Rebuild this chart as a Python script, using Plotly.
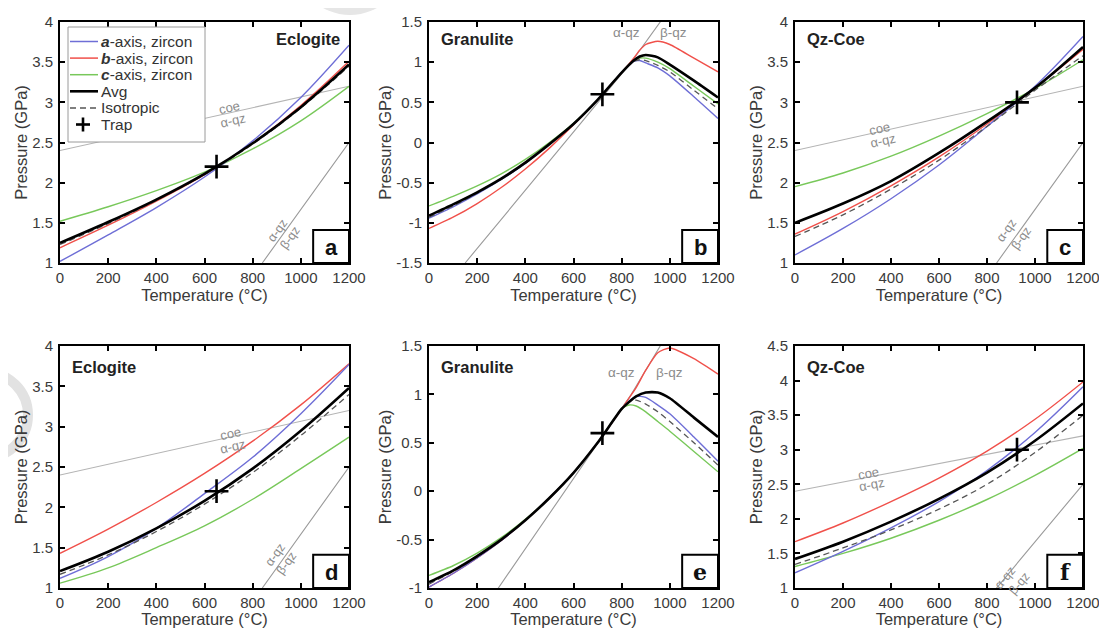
import math
import plotly.graph_objects as go

# ---------------- data ----------------
T7 = [0, 200, 400, 600, 800, 1000, 1200]

# panel a (Eclogite, top)
a_blue = [1.02, 1.35, 1.69, 2.07, 2.52, 3.06, 3.71]
a_red = [1.19, 1.47, 1.77, 2.10, 2.49, 2.96, 3.51]
a_green = [1.52, 1.70, 1.90, 2.13, 2.42, 2.77, 3.20]
a_avg = [1.25, 1.51, 1.79, 2.11, 2.49, 2.94, 3.47]
a_iso = [1.23, 1.49, 1.78, 2.10, 2.48, 2.93, 3.45]

# panel b (Granulite, top)
TB = [0, 100, 200, 300, 400, 500, 600, 700, 800, 850, 875, 900, 950, 1000, 1100, 1200]
b_blue = [-0.94, -0.80, -0.64, -0.46, -0.26, -0.02, 0.23, 0.53, 0.87, 1.01, 1.02, 0.99, 0.93, 0.83, 0.57, 0.30]
b_red = [-1.07, -0.93, -0.76, -0.56, -0.33, -0.07, 0.22, 0.53, 0.87, 1.05, 1.15, 1.22, 1.26, 1.22, 1.05, 0.88]
b_green = [-0.79, -0.67, -0.54, -0.39, -0.21, 0.00, 0.24, 0.53, 0.87, 1.02, 1.05, 1.05, 1.00, 0.92, 0.70, 0.48]
b_avg = [-0.91, -0.77, -0.62, -0.45, -0.25, -0.02, 0.23, 0.53, 0.87, 1.02, 1.07, 1.09, 1.06, 0.97, 0.77, 0.56]
b_iso = [-0.93, -0.79, -0.63, -0.46, -0.26, -0.02, 0.23, 0.53, 0.87, 1.01, 1.03, 1.02, 0.96, 0.88, 0.65, 0.42]

# panel c (Qz-Coe, top)
c_blue = [1.10, 1.43, 1.80, 2.22, 2.70, 3.20, 3.82]
c_red = [1.36, 1.64, 1.96, 2.32, 2.73, 3.18, 3.66]
c_green = [1.95, 2.12, 2.33, 2.58, 2.86, 3.17, 3.53]
c_avg = [1.50, 1.74, 2.02, 2.37, 2.76, 3.18, 3.69]
c_iso = [1.33, 1.60, 1.92, 2.28, 2.70, 3.15, 3.58]

# panel d (Eclogite, bottom)
d_blue = [1.12, 1.39, 1.74, 2.17, 2.62, 3.16, 3.77]
d_red = [1.43, 1.73, 2.06, 2.42, 2.82, 3.27, 3.78]
d_green = [1.06, 1.25, 1.50, 1.77, 2.10, 2.48, 2.87]
d_avg = [1.21, 1.45, 1.74, 2.08, 2.48, 2.95, 3.48]
d_iso = [1.17, 1.41, 1.70, 2.04, 2.43, 2.89, 3.40]

# panel e (Granulite, bottom)
TE = [0, 100, 200, 300, 400, 500, 600, 700, 800, 830, 860, 900, 950, 1000, 1100, 1200]
e_blue = [-0.99, -0.85, -0.69, -0.51, -0.30, -0.07, 0.19, 0.50, 0.85, 0.93, 0.98, 0.97, 0.89, 0.80, 0.56, 0.31]
e_red = [-0.99, -0.85, -0.69, -0.51, -0.30, -0.07, 0.19, 0.50, 0.85, 0.96, 1.07, 1.25, 1.43, 1.48, 1.37, 1.21]
e_green = [-0.87, -0.77, -0.64, -0.48, -0.29, -0.07, 0.19, 0.50, 0.85, 0.89, 0.88, 0.82, 0.72, 0.62, 0.41, 0.20]
e_avg = [-0.94, -0.82, -0.67, -0.50, -0.30, -0.07, 0.19, 0.50, 0.85, 0.92, 0.98, 1.02, 1.02, 0.96, 0.76, 0.56]
e_iso = [-0.96, -0.83, -0.68, -0.50, -0.30, -0.07, 0.19, 0.50, 0.85, 0.92, 0.94, 0.90, 0.82, 0.72, 0.50, 0.27]

# panel f (Qz-Coe, bottom)
f_blue = [1.22, 1.53, 1.87, 2.25, 2.70, 3.25, 3.91]
f_red = [1.67, 1.94, 2.25, 2.59, 2.98, 3.44, 3.98]
f_green = [1.31, 1.50, 1.72, 1.98, 2.28, 2.63, 3.02]
f_avg = [1.42, 1.67, 1.96, 2.29, 2.67, 3.13, 3.67]
f_iso = [1.34, 1.58, 1.84, 2.14, 2.50, 2.96, 3.50]

# phase boundaries
coe_T = [0, 1200]
coe_P = [2.4, 3.2]
ab_T = [150, 840, 1200]
ab_P = [-1.5, 1.0, 2.5]

# inclusion trap points
trap_T = [650, 720, 925, 650, 720, 925]
trap_P = [2.2, 0.6, 3.0, 2.2, 0.6, 3.0]

panel_letters = ["a", "b", "c", "d", "e", "f"]
panel_titles = ["Eclogite", "Granulite", "Qz-Coe", "Eclogite", "Granulite", "Qz-Coe"]
x_ticks = [0, 200, 400, 600, 800, 1000, 1200]
y_ranges = [[1, 4], [-1.5, 1.5], [1, 4], [1, 4], [-1, 1.5], [1, 4.5]]
y_ticks = [
    [1, 1.5, 2, 2.5, 3, 3.5, 4],
    [-1.5, -1, -0.5, 0, 0.5, 1, 1.5],
    [1, 1.5, 2, 2.5, 3, 3.5, 4],
    [1, 1.5, 2, 2.5, 3, 3.5, 4],
    [-1, -0.5, 0, 0.5, 1, 1.5],
    [1, 1.5, 2, 2.5, 3, 3.5, 4, 4.5],
]
series_names = ["<b><i>a</i></b>-axis, zircon", "<b><i>b</i></b>-axis, zircon",
                "<b><i>c</i></b>-axis, zircon", "Avg", "Isotropic", "Trap"]

panels = [
    (T7, a_blue, a_red, a_green, a_avg, a_iso),
    (TB, b_blue, b_red, b_green, b_avg, b_iso),
    (T7, c_blue, c_red, c_green, c_avg, c_iso),
    (T7, d_blue, d_red, d_green, d_avg, d_iso),
    (TE, e_blue, e_red, e_green, e_avg, e_iso),
    (T7, f_blue, f_red, f_green, f_avg, f_iso),
]

# ---------------- style / layout ----------------
FONT = "Liberation Sans, Arial, Helvetica, sans-serif"
W, H = 1107, 628
OFF = 8                       # default page body margin
FW, FH = W - OFF, H - OFF     # figure size so that it ends at the window edge


def px(x):
    return (x - OFF) / FW


def py(y):
    return 1 - (y - OFF) / FH


XD = [[60, 349], [429, 718], [795, 1083]]
YD = [[22, 263], [346, 588]]
BLUE, RED, GREEN = "#6e6ed6", "#f0504a", "#78c85a"
ISO_C = "#555555"
GRAY_TXT = "#8c8c8c"
series_colors = [BLUE, RED, GREEN, "black", ISO_C]

fig = go.Figure()
layout = {}
annotations = []
shapes = []

for i, (T, blue, red, green, avg, iso) in enumerate(panels):
    r, c = divmod(i, 3)
    sx = "x" if i == 0 else f"x{i+1}"
    sy = "y" if i == 0 else f"y{i+1}"
    lx = "xaxis" if i == 0 else f"xaxis{i+1}"
    ly = "yaxis" if i == 0 else f"yaxis{i+1}"
    smooth = 0.6 if i in (1, 4) else 1.0
    granulite = i in (1, 4)

    # phase boundaries
    if not granulite:
        fig.add_trace(go.Scatter(x=coe_T, y=coe_P, mode="lines", xaxis=sx, yaxis=sy,
                                 line=dict(color="#b4b4b4", width=1.1), showlegend=False,
                                 hoverinfo="skip"))
    fig.add_trace(go.Scatter(x=ab_T, y=ab_P, mode="lines", xaxis=sx, yaxis=sy,
                             line=dict(color="#9a9a9a", width=1.1), showlegend=False,
                             hoverinfo="skip"))

    def curve(y, k, width, dash=None):
        fig.add_trace(go.Scatter(
            x=T, y=y, mode="lines", name=series_names[k], xaxis=sx, yaxis=sy,
            line=dict(color=series_colors[k], width=width, shape="spline",
                      smoothing=smooth, dash=dash),
            showlegend=False))

    curve(green, 2, 1.4)
    curve(red, 1, 1.4)
    curve(blue, 0, 1.4)
    curve(iso, 4, 1.3, dash="6px,4px")
    curve(avg, 3, 2.6)
    fig.add_trace(go.Scatter(
        x=[trap_T[i]], y=[trap_P[i]], mode="markers", name=series_names[5],
        xaxis=sx, yaxis=sy, showlegend=False,
        marker=dict(symbol="cross-thin", size=17, line=dict(color="black", width=2.6))))

    xdom = [px(XD[c][0]), px(XD[c][1])]
    ydom = [py(YD[r][1]), py(YD[r][0])]
    ax_common = dict(showline=True, linewidth=2, linecolor="black", mirror="ticks",
                     ticks="inside", ticklen=5, tickwidth=1.5, tickcolor="black",
                     showgrid=False, zeroline=False, automargin=False,
                     tickfont=dict(family=FONT, size=15, color="#3a3a3a"))
    layout[lx] = dict(ax_common, domain=xdom, range=[0, 1200], anchor=sy,
                      tickvals=x_ticks, ticktext=[str(v) for v in x_ticks],
                      title=dict(text="Temperature (°C)", standoff=2,
                                 font=dict(family=FONT, size=16.5, color="#3a3a3a")))
    layout[ly] = dict(ax_common, domain=ydom, range=y_ranges[i], anchor=sx,
                      tickvals=y_ticks[i], ticktext=[f"{v:g}" for v in y_ticks[i]],
                      ticklabelstandoff=2,
                      title=dict(text="Pressure (GPa)", standoff=0,
                                 font=dict(family=FONT, size=16.5, color="#3a3a3a")))

    # panel title
    if i == 0:
        annotations.append(dict(text="<b>Eclogite</b>", xref=f"{sx} domain", yref=f"{sy} domain",
                                x=0.976, y=0.93, xanchor="right", yanchor="middle", showarrow=False,
                                font=dict(family=FONT, size=16.5, color="#222")))
    else:
        annotations.append(dict(text=f"<b>{panel_titles[i]}</b>", xref=f"{sx} domain",
                                yref=f"{sy} domain", x=0.035, y=0.93 if r == 0 else 0.915,
                                xanchor="left", yanchor="middle", showarrow=False,
                                font=dict(family=FONT, size=16.5, color="#222")))
    # letter box
    shapes.append(dict(type="rect", xref=f"{sx} domain", yref=f"{sy} domain",
                       x0=0.876, x1=1.0, y0=0.0, y1=0.137,
                       line=dict(color="black", width=2), fillcolor="white", layer="above"))
    letter_font = FONT if i < 4 else "DejaVu Serif, serif"
    annotations.append(dict(text=f"<b>{panel_letters[i]}</b>", xref=f"{sx} domain",
                            yref=f"{sy} domain", x=0.938, y=0.066, xanchor="center",
                            yanchor="middle", showarrow=False,
                            font=dict(family=letter_font, size=22, color="#111")))

    # phase labels
    px_T = (XD[c][1] - XD[c][0]) / 1200.0
    px_P = (YD[r][1] - YD[r][0]) / (y_ranges[i][1] - y_ranges[i][0])
    if granulite:
        yl = 1.37 if i == 1 else 1.23
        xa_, xb_ = (820, 1014) if i == 1 else (801, 1000)
        for tx, xx in (("α-qz", xa_), ("β-qz", xb_)):
            annotations.append(dict(text=tx, x=xx, y=yl, xref=sx, yref=sy, showarrow=False,
                                    font=dict(family=FONT, size=13.5, color=GRAY_TXT)))
    else:
        ang_coe = math.degrees(math.atan((coe_P[1] - coe_P[0]) / 1200 * px_P / px_T))
        ang_ab = math.degrees(math.atan((ab_P[2] - ab_P[1]) / (ab_T[2] - ab_T[1]) * px_P / px_T))
        coe_pos = {0: ((703, 2.93), (717, 2.78)), 2: ((354, 2.68), (368, 2.53)),
                   3: ((709, 2.92), (717, 2.75)), 5: ((305, 2.66), (319, 2.49))}[i]
        ab_pos = {0: ((905, 1.41), (955, 1.31)), 2: ((882, 1.41), (944, 1.31)),
                  3: ((893, 1.41), (941, 1.31)), 5: ((875, 1.14), (937, 1.07))}[i]
        for tx, (xx, yy) in zip(("coe", "α-qz"), coe_pos):
            annotations.append(dict(text=tx, x=xx, y=yy, xref=sx, yref=sy, showarrow=False,
                                    textangle=-ang_coe,
                                    font=dict(family=FONT, size=13, color=GRAY_TXT)))
        for tx, (xx, yy) in zip(("α-qz", "β-qz"), ab_pos):
            annotations.append(dict(text=tx, x=xx, y=yy, xref=sx, yref=sy, showarrow=False,
                                    textangle=-ang_ab,
                                    font=dict(family=FONT, size=12.5, color=GRAY_TXT)))

# ---------------- legend (drawn inside panel a) ----------------
LEG_X0, LEG_X1, LEG_Y0, LEG_Y1 = 68, 205, 27, 142
shapes.append(dict(type="rect", xref="paper", yref="paper", x0=px(LEG_X0), x1=px(LEG_X1),
                   y0=py(LEG_Y1), y1=py(LEG_Y0), line=dict(color="#9a9a9a", width=1),
                   fillcolor="white", layer="above"))
for k, name in enumerate(series_names):
    yk = 41.5 + 16.6 * k
    if k < 5:
        w = 2.6 if k == 3 else 1.5
        dash = "6px,4px" if k == 4 else "solid"
        shapes.append(dict(type="line", xref="paper", yref="paper", x0=px(70), x1=px(98),
                           y0=py(yk), y1=py(yk), layer="above",
                           line=dict(color=series_colors[k], width=w, dash=dash)))
    else:
        for (xa0, ya0, xa1, ya1) in ((76, yk, 90, yk), (83, yk - 7, 83, yk + 7)):
            shapes.append(dict(type="line", xref="paper", yref="paper", x0=px(xa0), x1=px(xa1),
                               y0=py(ya0), y1=py(ya1), layer="above",
                               line=dict(color="black", width=2.6)))
    annotations.append(dict(text=name, xref="paper", yref="paper", x=px(99), y=py(yk),
                            xanchor="left", yanchor="middle", showarrow=False,
                            font=dict(family=FONT, size=15.5, color="#333")))

# faint background ring fragments seen in the original image
shapes.append(dict(type="circle", xref="paper", yref="paper", layer="below",
                   x0=px(-15 - 43), x1=px(-15 + 43), y0=py(415 + 43), y1=py(415 - 43),
                   line=dict(color="#e2e2e2", width=10)))
shapes.append(dict(type="circle", xref="paper", yref="paper", layer="below",
                   x0=px(350 - 55), x1=px(350 + 55), y0=py(-40 + 55), y1=py(-40 - 55),
                   line=dict(width=0), fillcolor="#e6e6e6"))

fig.update_layout(
    width=FW, height=FH,
    margin=dict(l=0, r=0, t=0, b=0),
    paper_bgcolor="white", plot_bgcolor="white",
    font=dict(family=FONT, color="#333"),
    showlegend=False,
    annotations=annotations,
    shapes=shapes,
    **layout,
)

fig.write_html("out.html")
